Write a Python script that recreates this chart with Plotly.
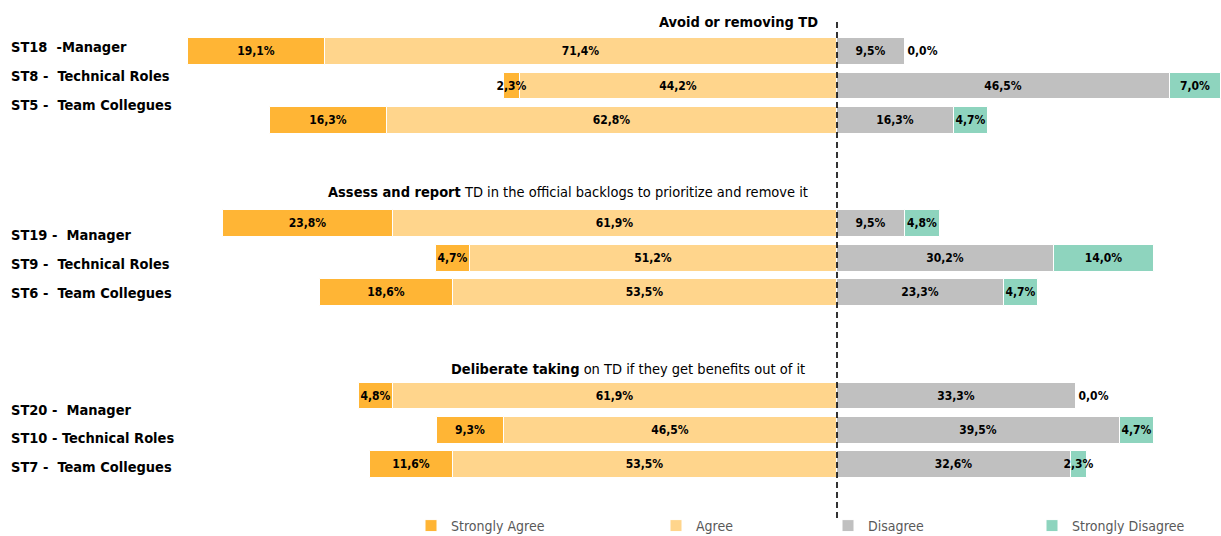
import plotly.graph_objects as go

# ---------------- data ----------------
row_labels = [
    "ST18\u00a0\u00a0-Manager",
    "ST8 -\u00a0\u00a0Technical Roles",
    "ST5 -\u00a0\u00a0Team Collegues",
    "ST19 -\u00a0\u00a0Manager",
    "ST9 -\u00a0\u00a0Technical Roles",
    "ST6 -\u00a0\u00a0Team Collegues",
    "ST20 -\u00a0\u00a0Manager",
    "ST10 - Technical Roles",
    "ST7 -\u00a0\u00a0Team Collegues",
]
group_titles = [
    "<b>Avoid or removing TD</b>",
    "<b>Assess and report</b> TD in the official backlogs to prioritize and remove it",
    "<b>Deliberate taking</b> on TD if they get benefits out of it",
]
strongly_agree = [19.1, 2.3, 16.3, 23.8, 4.7, 18.6, 4.8, 9.3, 11.6]
agree = [71.4, 44.2, 62.8, 61.9, 51.2, 53.5, 61.9, 46.5, 53.5]
disagree = [9.5, 46.5, 16.3, 9.5, 30.2, 23.3, 33.3, 39.5, 32.6]
strongly_disagree = [0.0, 7.0, 4.7, 4.8, 14.0, 4.7, 0.0, 4.7, 2.3]
series_names = ["Strongly Agree", "Agree", "Disagree", "Strongly Disagree"]

# ---------------- layout helpers ----------------
W, H = 1221, 536
FONT = "DejaVu Sans Condensed, Liberation Sans Narrow, Roboto Condensed, Roboto, sans-serif"
colors = {
    "Strongly Agree": "#FFB535",
    "Agree": "#FFD58C",
    "Disagree": "#C0C0C0",
    "Strongly Disagree": "#8ED4BE",
}

# category axis: 3 rows per group, 2 blank slots between groups
cats = []
row_cat = []
spacer = 0
for i, lab in enumerate(row_labels):
    if i > 0 and i % 3 == 0:
        for _ in range(2):
            spacer += 1
            cats.append(" " * spacer)
    row_cat.append(lab)
    cats.append(lab)


def fmt(v):
    return f"{v:.1f}".replace(".", ",") + "%"


fig = go.Figure()


def add(name, vals, sign, legend):
    fig.add_trace(go.Bar(
        y=row_cat,
        x=[sign * v for v in vals],
        orientation="h",
        name=name,
        legend=legend,
        marker=dict(color=colors[name], line=dict(color="white", width=1)),
        width=0.78,
        text=[fmt(v) for v in vals],
        texttemplate="%{text}",
        textposition=["outside" if v == 0 else "inside" for v in vals],
        insidetextanchor="middle",
        constraintext="none",
        textangle=0,
        cliponaxis=False,
        textfont=dict(family=FONT, size=12, color="black", weight="bold"),
        hoverinfo="skip",
    ))


# negative side: Agree next to the centre, Strongly Agree outward
add("Agree", agree, -1, "legend2")
add("Strongly Agree", strongly_agree, -1, "legend")
add("Disagree", disagree, 1, "legend3")
add("Strongly Disagree", strongly_disagree, 1, "legend4")

# y axis geometry (pixel-derived)
row_step = 34.45
first_center = 51.5
y_top = -first_center / row_step
y_bot = (H - first_center) / row_step

px_per_pct = 7.17
center_px = 837
x_left = -center_px / px_per_pct
x_right = (W - center_px) / px_per_pct

annotations = []
label_px = [47, 76, 105, 235, 264, 293, 410, 438, 467]
for lab, py in zip(row_labels, label_px):
    annotations.append(dict(
        x=9 / W, xref="paper", xanchor="left",
        y=1 - py / H, yref="paper", yanchor="middle",
        text=f"<b>{lab}</b>", showarrow=False,
        font=dict(family=FONT, size=14.5, color="black"),
    ))

title_px = [(820, 22), (810, 192), (807, 369)]
for t, (px, py) in zip(group_titles, title_px):
    annotations.append(dict(
        x=px / W, xref="paper", xanchor="right",
        y=1 - py / H, yref="paper", yanchor="middle",
        text=t, showarrow=False,
        font=dict(family=FONT, size=14.5, color="black"),
    ))

legend_text_x = [451, 696, 868, 1072]
legend_common = dict(
    orientation="h", yanchor="top", y=1 - 510 / H, xanchor="left",
    bgcolor="rgba(0,0,0,0)", font=dict(family=FONT, size=14, color="#595959"),
    itemwidth=30,
)
legends = {}
for key, tx in zip(["legend", "legend2", "legend3", "legend4"], legend_text_x):
    legends[key] = dict(x=(tx - 40) / W, **legend_common)

fig.add_shape(type="line", x0=0, x1=0, xref="x",
              y0=1 - 22 / H, y1=1 - 518 / H,
              yref="paper", line=dict(color="black", width=1.6, dash="6px,4px"))

fig.update_layout(
    width=W, height=H,
    margin=dict(l=0, r=0, t=0, b=0, autoexpand=False),
    paper_bgcolor="white", plot_bgcolor="white",
    barmode="relative",
    bargap=0,
    showlegend=True,
    xaxis=dict(range=[x_left, x_right], showgrid=False, zeroline=False,
               showticklabels=False, showline=False, fixedrange=True),
    yaxis=dict(type="category", categoryorder="array", categoryarray=cats,
               range=[y_bot, y_top], showgrid=False, zeroline=False,
               showticklabels=False, showline=False, fixedrange=True),
    annotations=annotations,
    **legends,
)

fig.write_html(
    "out.html",
    config={"displayModeBar": False},
    post_script="document.body.style.margin='0';document.body.style.overflow='hidden';",
)
